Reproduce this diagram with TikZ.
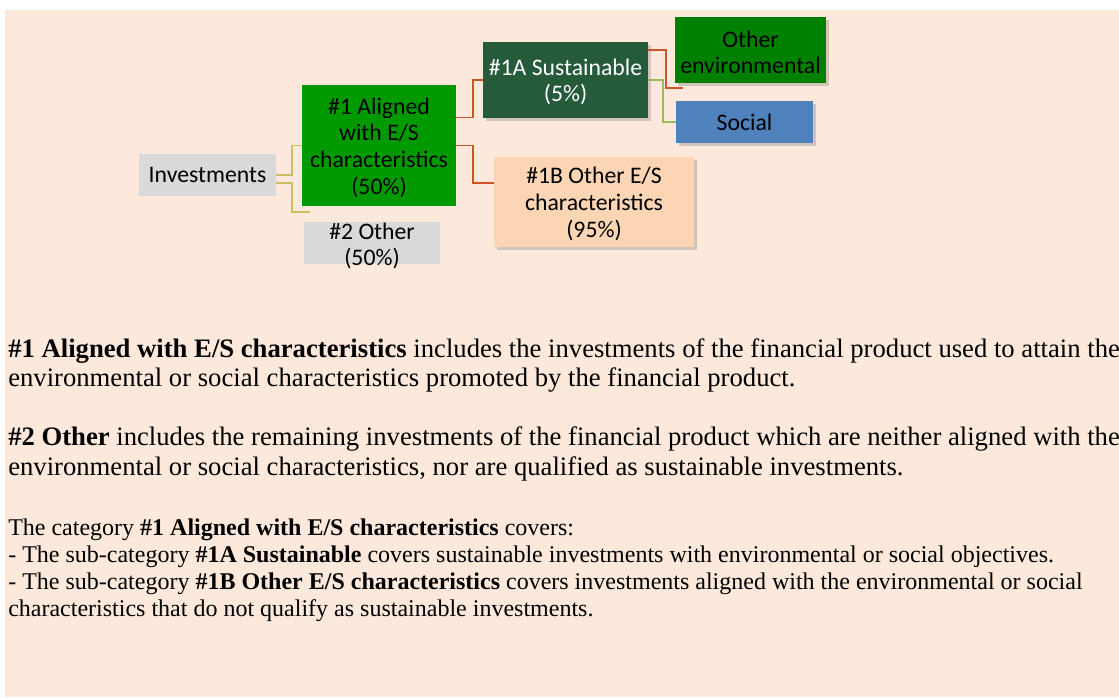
\documentclass[tikz,border=0pt]{standalone}
\usepackage{fontspec}
\setmainfont{Liberation Serif}
\newfontfamily\calib{Carlito}
\usetikzlibrary{positioning,shadows}
\definecolor{bgpeach}{HTML}{FCE9DB}
\definecolor{boxgray}{HTML}{D9D9D9}
\definecolor{alggreen}{HTML}{009900}
\definecolor{susgreen}{HTML}{255A3B}
\definecolor{envgreen}{HTML}{008000}
\definecolor{socblue}{HTML}{4F81BD}
\definecolor{othpeach}{HTML}{FCD5B4}
\definecolor{linered}{HTML}{D0532B}
\definecolor{lineolive}{HTML}{C9BF5E}
\definecolor{linegreen}{HTML}{9BBB59}

\begin{document}
\begin{tikzpicture}[x=0.75pt,y=-0.75pt,
	box/.style={rectangle,inner sep=0pt,align=center,font=\calib\fontsize{17.8}{20}\selectfont},
	shad/.style={drop shadow={shadow xshift=2.5pt,shadow yshift=-2.5pt,opacity=0.35}},
	para/.style={anchor=base west,inner sep=0pt,font=\fontsize{20}{24}\selectfont},
	parb/.style={anchor=base west,inner sep=0pt,font=\fontsize{18}{21}\selectfont},
	link/.style={line width=1.3pt}]
	\useasboundingbox[fill=white] (0,0) rectangle (1119,697);
	\fill[bgpeach] (5,10) rectangle (1119,697);
	\node (Inv) [box,fill=boxgray,minimum width=102.75pt,minimum height=31.5pt] at (207.5,175) {Investments};
	\node (Al) [box,fill=alggreen,minimum width=115.5pt,minimum height=90.75pt] at (379,145.5) {};
	\node (AlT) [box] at (379,147.5) {\#1 Aligned\\with E/S\\characteristics\\(50\%)};
	\node (Oth) [box,fill=boxgray,minimum width=102pt,minimum height=31.5pt] at (372,243) {};
	\node (OthT) [box] at (372,246) {\#2 Other\\(50\%)};
	\node (S1A) [box,shad,fill=susgreen,minimum width=123.75pt,minimum height=57pt] at (565.5,80) {};
	\node (S1AT) [box,text=white] at (565.5,82) {\#1A Sustainable\\(5\%)};
	\node (O1B) [box,shad,fill=othpeach,minimum width=150pt,minimum height=67.5pt] at (594,202) {};
	\node (O1BT) [box] at (594,204) {\#1B Other E/S\\characteristics\\(95\%)};
	\node (Env) [box,shad,fill=envgreen,minimum width=113.25pt,minimum height=49.5pt] at (750.5,50) {};
	\node (EnvT) [box] at (750.5,52.5) {Other\\environmental};
	\node (Soc) [box,shad,fill=socblue,minimum width=102.75pt,minimum height=31.5pt] at (744.5,122) {Social};
	\coordinate (OthIn) at (310,212);
	\coordinate (EnvIn) at (683,88);
	\draw[link,lineolive] (Inv.east) -- ++(16,0) |- (Al.west);
	\draw[link,lineolive] ([yshift=-6pt]Inv.east) -- ++(16,0) |- (OthIn);
	\draw[link,linered] ([yshift=21pt]Al.east) -- ++(17,0) |- (S1A.west);
	\draw[link,linered] (Al.east) -- ++(17,0) |- ([yshift=14pt]O1B.west);
	\draw[link,linered] ([yshift=22.5pt]S1A.east) -- ++(18,0) |- (EnvIn);
	\draw[link,linegreen] (S1A.east) -- ++(15,0) |- (Soc.west);
	\node (T1) [para] at (8,357) {\textbf{\#1 Aligned with E/S characteristics} includes the investments of the financial product used to attain the};
	\node (T2) [para] at (8,386) {environmental or social characteristics promoted by the financial product.};
	\node (T3) [para] at (8,445) {\textbf{\#2 Other} includes the remaining investments of the financial product which are neither aligned with the};
	\node (T4) [para] at (8,475) {environmental or social characteristics, nor are qualified as sustainable investments.};
	\node (T5) [parb] at (8,535) {The category \textbf{\#1 Aligned with E/S characteristics} covers:};
	\node (T6) [parb] at (8,562) {- The sub-category \textbf{\#1A Sustainable} covers sustainable investments with environmental or social objectives.};
	\node (T7) [parb] at (8,589) {- The sub-category \textbf{\#1B Other E/S characteristics} covers investments aligned with the environmental or social};
	\node (T8) [parb] at (8,616) {characteristics that do not qualify as sustainable investments.};
\end{tikzpicture}
\end{document}
